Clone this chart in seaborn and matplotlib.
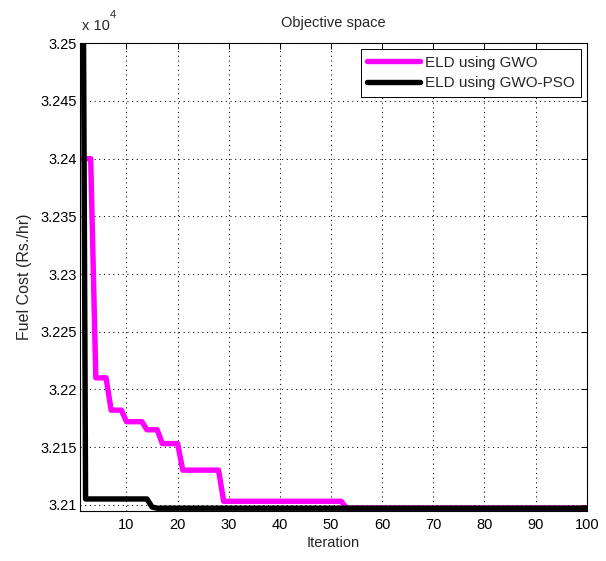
import matplotlib
matplotlib.use("Agg")
import matplotlib.pyplot as plt
import pandas as pd
import seaborn as sns
from matplotlib.ticker import FuncFormatter, FixedLocator

# ---- data ----
gwo_label = "ELD using GWO"
gwopso_label = "ELD using GWO-PSO"

# breakpoints of the step-like convergence curves (iteration, fuel cost Rs./hr)
gwo_iter = [1, 3, 4, 6, 7, 9, 10, 13, 14, 16, 17, 20, 21, 28, 29, 52, 53, 100]
gwo_cost = [32400, 32400, 32210, 32210, 32182, 32182, 32172, 32172, 32165, 32165,
            32153, 32153, 32130, 32130, 32103, 32103, 32097, 32097]

gwopso_iter = [1, 2, 14, 15, 16, 100]
gwopso_cost = [33100, 32105, 32105, 32098, 32097, 32097]

x_ticks = [10, 20, 30, 40, 50, 60, 70, 80, 90, 100]
y_ticks = [32100, 32150, 32200, 32250, 32300, 32350, 32400, 32450, 32500]

title_text = "Objective space"
x_label = "Iteration"
y_label = "Fuel Cost (Rs./hr)"

# ---- build table ----
df = pd.concat([
    pd.DataFrame({"Iteration": gwo_iter, "Cost": gwo_cost, "Method": gwo_label}),
    pd.DataFrame({"Iteration": gwopso_iter, "Cost": gwopso_cost, "Method": gwopso_label}),
], ignore_index=True)

sns.set_style("white")
plt.rcParams["font.family"] = ["Liberation Sans", "DejaVu Sans"]
plt.rcParams["font.size"] = 10.5

fig = plt.figure(figsize=(6.06, 5.61), dpi=100)
ax = fig.add_axes([0.1328, 0.0900, 0.8354, 0.8328])

sns.lineplot(data=df, x="Iteration", y="Cost", hue="Method",
             hue_order=[gwo_label, gwopso_label],
             palette={gwo_label: "#ff00ff", gwopso_label: "#000000"},
             estimator=None, sort=False, linewidth=3.9, ax=ax, legend=True)

ax.set_xlim(1, 100)
ax.set_ylim(32095, 32500)
ax.xaxis.set_major_locator(FixedLocator(x_ticks))
ax.yaxis.set_major_locator(FixedLocator(y_ticks))
ax.yaxis.set_major_formatter(FuncFormatter(lambda v, p: "%g" % (v / 1e4)))

ax.grid(True, color="black", linestyle=(0, (1, 3.5)), linewidth=0.75)
ax.set_axisbelow(True)
for s in ax.spines.values():
    s.set_visible(True)
    s.set_color("black")
    s.set_linewidth(0.8)
ax.tick_params(direction="in", length=4, width=0.7, top=True, right=True,
               colors="black", labelsize=10.5)
ax.tick_params(axis="x", pad=5.5)
ax.tick_params(axis="y", pad=2.5)

ax.set_title(title_text, fontsize=10.5, pad=12)
ax.set_xlabel(x_label, fontsize=10.5, labelpad=3)
ax.set_ylabel(y_label, fontsize=11.5, labelpad=6)

# MATLAB style exponent label
ax.text(0.003, 1.028, "x 10", transform=ax.transAxes, ha="left", va="baseline",
        fontsize=10.5)
ax.text(0.058, 1.054, "4", transform=ax.transAxes, ha="left", va="baseline",
        fontsize=8)

sns.move_legend(ax, "upper right", title=None, frameon=True, fancybox=False,
                framealpha=1, edgecolor="black", borderaxespad=0.4,
                handlelength=3.5, handletextpad=0.3, labelspacing=0.45,
                borderpad=0.4, fontsize=11)
leg = ax.get_legend()
leg.get_frame().set_linewidth(0.7)

fig.savefig("out.png", dpi=100)
